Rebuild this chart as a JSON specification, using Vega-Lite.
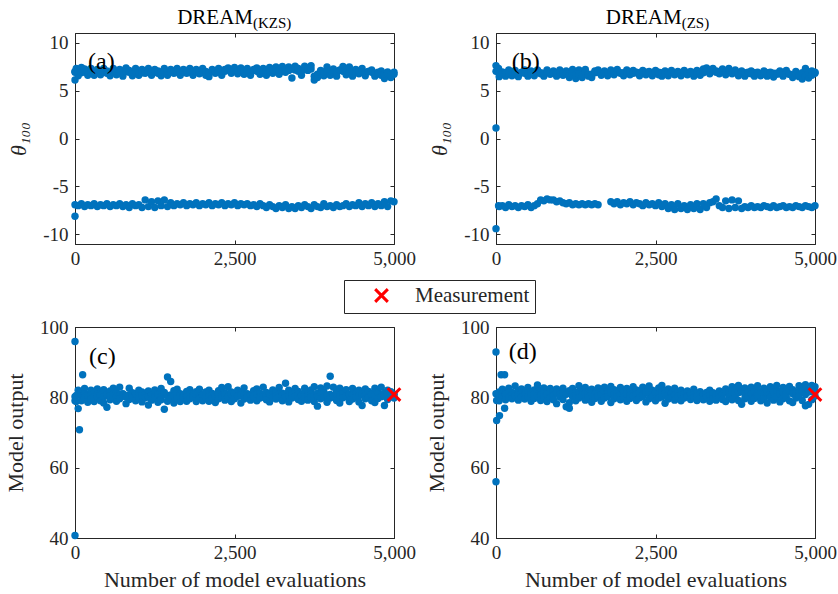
{
  "$schema": "https://vega.github.io/schema/vega-lite/v6.json",
  "background": "white",
  "padding": {"left": 4, "top": 6, "right": 0, "bottom": 0},
  "config": {
    "font": "Liberation Serif",
    "view": {"stroke": "#262626", "strokeWidth": 1},
    "axis": {
      "labelColor": "#262626", "titleColor": "#262626",
      "domainColor": "#262626", "tickColor": "#262626", "grid": false,
      "tickSize": -4
    }
  },
  "datasets": {
    "a": [
      {"i":0,"u":7.0,"m":6.9,"l":-6.9},{"i":0,"u":6.1,"l":-8.1},{"i":20,"u":7.3},
      {"i":50,"u":6.55,"m":7.0,"l":-7.0},{"i":100,"u":7.4,"m":6.85,"l":-6.8},{"i":150,"u":7.25,"m":6.95,"l":-7.1},{"i":200,"u":6.6,"m":7.05,"l":-6.9},
      {"i":250,"u":7.3,"m":6.9,"l":-7.0},{"i":300,"u":6.6,"m":7.0,"l":-6.8},{"i":350,"u":7.2,"m":6.85,"l":-7.1},{"i":400,"u":6.65,"m":7.0,"l":-6.9},
      {"i":450,"u":7.3,"m":6.95,"l":-7.0},{"i":500,"u":6.8,"m":7.05,"l":-6.8},{"i":550,"u":6.55,"m":6.9,"l":-7.1},{"i":600,"u":7.3,"m":6.95,"l":-6.9},
      {"i":650,"u":6.65,"m":7.0,"l":-7.0},{"i":700,"u":7.2,"m":6.85,"l":-6.8},{"i":750,"u":6.5,"m":7.05,"l":-7.1},{"i":800,"u":7.35,"m":6.95,"l":-6.9},
      {"i":850,"u":6.9,"m":7.1,"l":-7.2},{"i":900,"u":6.55,"m":6.9,"l":-6.8},{"i":950,"u":7.3,"m":7.0,"l":-7.0},{"i":1000,"u":6.6,"m":6.95,"l":-6.9},
      {"i":1050,"u":7.2,"m":6.85,"l":-7.2},{"i":1100,"u":6.8,"m":7.05,"l":-6.4},{"i":1150,"u":7.3,"m":6.95,"l":-7.1},{"i":1200,"u":6.6,"m":7.0,"l":-6.6},
      {"i":1250,"u":7.2,"m":6.9,"l":-7.2},{"i":1300,"u":6.8,"m":7.05,"l":-6.5},{"i":1350,"u":6.55,"m":6.95,"l":-7.0},{"i":1400,"u":7.3,"m":6.9,"l":-6.4},
      {"i":1450,"u":6.6,"m":7.0,"l":-7.1},{"i":1500,"u":7.2,"m":6.95,"l":-6.7},{"i":1550,"u":6.8,"m":7.05,"l":-7.0},{"i":1600,"u":7.3,"m":6.9,"l":-6.8},
      {"i":1650,"u":6.6,"m":7.0,"l":-6.9},{"i":1700,"u":7.2,"m":6.95,"l":-6.7},{"i":1750,"u":6.8,"m":7.05,"l":-7.0},{"i":1800,"u":7.3,"m":6.9,"l":-6.8},
      {"i":1850,"u":6.6,"m":7.0,"l":-6.9},{"i":1900,"u":7.2,"m":6.95,"l":-6.7},{"i":1950,"u":6.75,"m":7.05,"l":-7.0},{"i":2000,"u":7.3,"m":6.9,"l":-6.8},
      {"i":2050,"u":6.6,"m":7.0,"l":-6.9},{"i":2100,"u":6.45,"m":6.85,"l":-6.7},{"i":2150,"u":7.2,"m":7.0,"l":-7.0},{"i":2200,"u":6.8,"m":7.05,"l":-6.8},
      {"i":2250,"u":7.3,"m":6.95,"l":-6.9},{"i":2300,"u":6.6,"m":7.1,"l":-6.7},{"i":2350,"u":7.2,"m":7.0,"l":-7.0},{"i":2400,"u":7.35,"m":7.15,"l":-6.8},
      {"i":2450,"u":6.8,"m":7.05,"l":-6.9},{"i":2500,"u":7.4,"m":7.1,"l":-6.7},{"i":2550,"u":6.75,"m":7.0,"l":-7.0},{"i":2600,"u":7.35,"m":7.15,"l":-6.8},
      {"i":2650,"u":6.7,"m":7.05,"l":-6.9},{"i":2700,"u":7.3,"m":7.0,"l":-6.8},{"i":2750,"u":6.6,"m":6.95,"l":-7.0},{"i":2800,"u":7.2,"m":7.1,"l":-6.9},
      {"i":2850,"u":7.35,"m":7.0,"l":-7.1},{"i":2900,"u":6.7,"m":7.05,"l":-6.8},{"i":2950,"u":7.3,"m":6.95,"l":-7.0},{"i":3000,"u":6.6,"m":7.1,"l":-7.2},
      {"i":3050,"u":7.4,"m":7.0,"l":-6.9},{"i":3100,"u":6.8,"m":7.2,"l":-7.1},{"i":3150,"u":7.45,"m":7.05,"l":-7.3},{"i":3200,"u":6.7,"m":7.1,"l":-7.0},
      {"i":3250,"u":7.5,"m":7.0,"l":-7.2},{"i":3300,"u":6.9,"m":7.2,"l":-6.9},{"i":3350,"u":7.45,"m":7.1,"l":-7.3},{"i":3400,"u":6.3,"m":7.25,"l":-7.1},
      {"i":3450,"u":7.55,"m":7.15,"l":-7.3},{"i":3500,"u":7.0,"m":7.3,"l":-7.0},{"i":3550,"u":6.6,"m":7.1,"l":-7.2},{"i":3600,"u":7.55,"m":7.2,"l":-6.9},
      {"i":3650,"u":7.1,"m":7.3,"l":-7.1},{"i":3700,"u":7.6,"m":7.25,"l":-7.3},{"i":3750,"u":6.1,"m":6.5,"l":-6.9},{"i":3800,"u":6.35,"m":6.7,"l":-7.1},
      {"i":3850,"u":7.1,"m":6.9,"l":-7.2},{"i":3900,"u":6.55,"m":6.95,"l":-6.8},{"i":3950,"u":7.45,"m":7.0,"l":-7.1},{"i":4000,"u":6.6,"m":7.1,"l":-7.0},
      {"i":4050,"u":7.25,"m":6.9,"l":-7.2},{"i":4100,"u":6.5,"m":6.85,"l":-6.9},{"i":4150,"u":7.1,"m":7.15,"l":-7.1},{"i":4200,"u":7.5,"m":7.0,"l":-7.0},
      {"i":4250,"u":6.65,"m":7.1,"l":-6.8},{"i":4300,"u":7.45,"m":6.9,"l":-7.1},{"i":4350,"u":6.5,"m":7.0,"l":-6.9},{"i":4400,"u":7.2,"m":6.9,"l":-7.0},
      {"i":4450,"u":6.75,"m":7.05,"l":-6.7},{"i":4500,"u":7.3,"m":6.95,"l":-7.1},{"i":4550,"u":6.55,"m":6.85,"l":-6.8},{"i":4600,"u":7.0,"m":7.0,"l":-7.0},
      {"i":4650,"u":7.15,"m":6.9,"l":-6.7},{"i":4700,"u":6.5,"m":6.8,"l":-7.1},{"i":4750,"u":6.9,"m":6.75,"l":-6.8},{"i":4800,"u":7.05,"m":6.6,"l":-7.0},
      {"i":4850,"u":6.25,"m":6.7,"l":-6.6},{"i":4900,"u":6.95,"m":6.8,"l":-7.1},{"i":4950,"u":6.35,"m":6.6,"l":-6.5},{"i":5000,"u":6.9,"m":6.7,"l":-6.6}
    ],
    "b": [
      {"i":0,"u":7.6,"m":7.0,"l":-9.4},{"i":0,"u":1.1},{"i":40,"u":7.3,"l":-7.0},
      {"i":50,"u":6.45,"m":6.8,"l":-7.1},{"i":100,"u":6.95,"m":6.75,"l":-7.0},{"i":150,"u":6.5,"m":6.85,"l":-7.2},{"i":200,"u":7.15,"m":6.8,"l":-6.9},
      {"i":250,"u":6.55,"m":6.9,"l":-7.1},{"i":300,"u":7.1,"m":6.8,"l":-7.0},{"i":350,"u":6.45,"m":6.75,"l":-7.2},{"i":400,"u":6.9,"m":6.85,"l":-7.0},
      {"i":450,"u":7.15,"m":6.8,"l":-7.1},{"i":500,"u":6.5,"m":6.75,"l":-6.9},{"i":550,"u":7.05,"m":6.85,"l":-7.2},{"i":600,"u":6.55,"m":6.8,"l":-7.0},
      {"i":650,"u":7.15,"m":6.9,"l":-6.8},{"i":700,"u":6.75,"m":6.85,"l":-6.4},{"i":750,"u":6.5,"m":6.8,"l":-6.5},{"i":800,"u":7.15,"m":6.9,"l":-6.3},
      {"i":850,"u":6.7,"m":6.85,"l":-6.4},{"i":900,"u":7.05,"m":6.8,"l":-6.4},{"i":950,"u":6.5,"m":6.85,"l":-6.6},{"i":1000,"u":7.15,"m":6.9,"l":-6.5},
      {"i":1050,"u":6.6,"m":6.8,"l":-6.7},{"i":1100,"u":7.05,"m":6.75,"l":-6.8},{"i":1150,"u":6.35,"m":6.6,"l":-6.7},{"i":1200,"u":7.2,"m":6.8,"l":-6.9},
      {"i":1250,"u":6.25,"m":6.6,"l":-6.8},{"i":1300,"u":7.15,"m":6.75,"l":-6.9},{"i":1350,"u":6.35,"m":6.6,"l":-6.8},{"i":1400,"u":7.2,"m":6.85,"l":-6.9},
      {"i":1450,"u":6.5,"m":6.7,"l":-6.8},{"i":1500,"u":6.35,"m":6.7,"l":-6.9},{"i":1550,"u":7.05,"m":6.85,"l":-6.8},{"i":1600,"u":7.15,"m":6.9,"l":-6.9},
      {"i":1650,"u":6.6,"m":6.85},{"i":1700,"u":7.05,"m":6.9},{"i":1750,"u":6.55,"m":6.85},{"i":1800,"u":7.15,"m":6.9,"l":-6.6},
      {"i":1850,"u":6.65,"m":6.95,"l":-6.8},{"i":1900,"u":7.2,"m":6.9,"l":-6.6},{"i":1950,"u":6.8,"m":6.85,"l":-6.9},{"i":2000,"u":6.55,"m":6.85,"l":-6.7},
      {"i":2050,"u":7.15,"m":6.9,"l":-6.8},{"i":2100,"u":6.65,"m":6.85,"l":-6.6},{"i":2150,"u":7.1,"m":6.8,"l":-6.9},{"i":2200,"u":6.85,"m":6.9,"l":-6.7},
      {"i":2250,"u":6.55,"m":6.85,"l":-6.8},{"i":2300,"u":7.1,"m":6.8,"l":-7.0},{"i":2350,"u":6.65,"m":6.9,"l":-6.7},{"i":2400,"u":7.0,"m":6.85,"l":-6.9},
      {"i":2450,"u":6.55,"m":6.8,"l":-6.8},{"i":2500,"u":7.1,"m":6.85,"l":-7.0},{"i":2550,"u":6.65,"m":6.9,"l":-6.7},{"i":2600,"u":6.5,"m":6.85,"l":-7.1},
      {"i":2650,"u":7.05,"m":6.8,"l":-6.8},{"i":2700,"u":6.55,"m":6.85,"l":-7.3},{"i":2750,"u":7.1,"m":6.9,"l":-6.9},{"i":2800,"u":6.65,"m":6.85,"l":-7.4},
      {"i":2850,"u":7.0,"m":6.8,"l":-6.8},{"i":2900,"u":6.55,"m":6.85,"l":-7.3},{"i":2950,"u":7.1,"m":6.8,"l":-7.0},{"i":3000,"u":6.65,"m":6.85,"l":-7.4},
      {"i":3050,"u":7.0,"m":6.8,"l":-6.9},{"i":3100,"u":6.5,"m":6.85,"l":-7.3},{"i":3150,"u":7.1,"m":6.9,"l":-6.8},{"i":3200,"u":6.6,"m":6.8,"l":-7.4},
      {"i":3250,"u":7.25,"m":6.85,"l":-6.8},{"i":3300,"u":7.35,"m":7.0,"l":-7.2},{"i":3350,"u":6.75,"m":7.05,"l":-6.7},{"i":3400,"u":7.3,"m":7.1,"l":-6.6},
      {"i":3450,"u":6.9,"m":7.05,"l":-6.3},{"i":3500,"u":6.75,"m":7.0,"l":-7.0},{"i":3550,"u":7.25,"m":7.05,"l":-7.2},{"i":3600,"u":6.65,"m":6.95,"l":-6.5},
      {"i":3650,"u":7.3,"m":7.05,"l":-7.3},{"i":3700,"u":6.75,"m":6.95,"l":-6.4},{"i":3750,"u":7.15,"m":6.95,"l":-7.2},{"i":3800,"u":6.55,"m":6.85,"l":-6.5},
      {"i":3850,"u":7.05,"m":6.8,"l":-7.3},{"i":3900,"u":6.5,"m":6.85,"l":-7.1},{"i":3950,"u":6.9,"m":6.8,"l":-7.2},{"i":4000,"u":7.05,"m":6.75,"l":-7.0},
      {"i":4050,"u":6.5,"m":6.85,"l":-7.2},{"i":4100,"u":6.9,"m":6.8,"l":-7.1},{"i":4150,"u":6.55,"m":6.75,"l":-7.2},{"i":4200,"u":7.05,"m":6.8,"l":-7.0},
      {"i":4250,"u":6.5,"m":6.85,"l":-7.1},{"i":4300,"u":6.9,"m":6.75,"l":-7.2},{"i":4350,"u":6.4,"m":6.8,"l":-7.0},{"i":4400,"u":6.8,"m":6.7,"l":-7.2},
      {"i":4450,"u":7.05,"m":6.75,"l":-7.1},{"i":4500,"u":6.5,"m":6.85,"l":-7.0},{"i":4550,"u":7.1,"m":6.8,"l":-7.2},{"i":4600,"u":6.7,"m":6.7,"l":-7.1},
      {"i":4650,"u":6.35,"m":6.55,"l":-7.2},{"i":4700,"u":7.0,"m":6.8,"l":-7.0},{"i":4750,"u":6.45,"m":6.6,"l":-7.1},{"i":4800,"u":6.2,"m":6.85,"l":-7.2},
      {"i":4850,"u":7.3,"m":6.5,"l":-7.0},{"i":4900,"u":6.3,"m":6.9,"l":-7.1},{"i":4950,"u":7.05,"m":6.6,"l":-7.2},{"i":5000,"u":6.8,"m":6.9,"l":-7.0}
    ],
    "c": [
      {"i":0,"v1":79.0,"v3":80.2,"v2":40.7},{"i":0,"v1":95.9},{"i":20,"v1":80.5,"v2":78.8},{"i":70,"v1":70.8},{"i":120,"v1":86.4},
      {"i":50,"v1":82.0,"v3":80.8,"v2":76.8},{"i":100,"v1":81.5,"v3":80.4,"v2":79.0},{"i":150,"v1":82.5,"v3":81.0,"v2":80.0},{"i":200,"v1":80.8,"v3":80.3,"v2":78.6},
      {"i":250,"v1":82.0,"v3":80.7,"v2":79.5},{"i":300,"v1":81.2,"v3":80.1,"v2":78.8},{"i":350,"v1":82.4,"v3":80.9,"v2":80.2},{"i":400,"v1":81.0,"v3":80.5,"v2":79.0},
      {"i":450,"v1":82.2,"v3":80.2,"v2":78.4},{"i":500,"v1":80.6,"v3":80.8,"v2":77.2},{"i":550,"v1":81.8,"v3":80.4,"v2":79.3},{"i":600,"v1":82.6,"v3":81.0,"v2":80.0},
      {"i":650,"v1":81.4,"v3":80.3,"v2":78.9},{"i":700,"v1":82.9,"v3":80.6,"v2":79.6},{"i":750,"v1":81.0,"v3":80.9,"v2":80.3},{"i":800,"v1":80.5,"v3":80.2,"v2":78.2},
      {"i":850,"v1":82.6,"v3":80.7,"v2":79.4},{"i":900,"v1":81.3,"v3":80.4,"v2":80.1},{"i":950,"v1":80.8,"v3":81.0,"v2":79.0},{"i":1000,"v1":82.0,"v3":80.3,"v2":79.8},
      {"i":1050,"v1":81.5,"v3":80.6,"v2":78.7},{"i":1100,"v1":80.9,"v3":80.9,"v2":79.9},{"i":1150,"v1":81.8,"v3":80.1,"v2":77.8},{"i":1200,"v1":80.7,"v3":80.7,"v2":79.2},
      {"i":1250,"v1":82.1,"v3":80.4,"v2":80.0},{"i":1300,"v1":81.2,"v3":80.8,"v2":78.6},{"i":1350,"v1":82.5,"v3":80.2,"v2":79.3},{"i":1400,"v1":80.8,"v3":81.4,"v2":76.6},
      {"i":1450,"v1":85.8,"v3":80.5,"v2":78.9},{"i":1500,"v1":84.5,"v3":80.7,"v2":79.8},{"i":1550,"v1":81.9,"v3":80.3,"v2":78.4},{"i":1600,"v1":82.3,"v3":80.9,"v2":79.5},
      {"i":1650,"v1":81.0,"v3":80.4,"v2":78.8},{"i":1700,"v1":80.8,"v3":80.6,"v2":79.9},{"i":1750,"v1":81.7,"v3":80.2,"v2":78.9},{"i":1800,"v1":82.2,"v3":80.8,"v2":79.6},
      {"i":1850,"v1":80.9,"v3":80.5,"v2":80.1},{"i":1900,"v1":81.6,"v3":80.9,"v2":78.8},{"i":1950,"v1":82.3,"v3":80.3,"v2":79.7},{"i":2000,"v1":80.7,"v3":80.6,"v2":79.0},
      {"i":2050,"v1":81.5,"v3":81.0,"v2":80.2},{"i":2100,"v1":82.0,"v3":80.4,"v2":78.9},{"i":2150,"v1":81.1,"v3":80.7,"v2":79.7},{"i":2200,"v1":80.8,"v3":80.2,"v2":78.5},
      {"i":2250,"v1":81.9,"v3":80.9,"v2":79.6},{"i":2300,"v1":82.8,"v3":80.5,"v2":80.0},{"i":2350,"v1":81.3,"v3":80.8,"v2":79.2},{"i":2400,"v1":83.0,"v3":80.3,"v2":80.1},
      {"i":2450,"v1":81.5,"v3":80.7,"v2":78.8},{"i":2500,"v1":80.9,"v3":81.0,"v2":79.6},{"i":2550,"v1":82.0,"v3":80.4,"v2":80.3},{"i":2600,"v1":81.2,"v3":80.6,"v2":78.4},
      {"i":2650,"v1":82.7,"v3":80.9,"v2":79.5},{"i":2700,"v1":81.0,"v3":80.3,"v2":80.0},{"i":2750,"v1":80.6,"v3":80.7,"v2":79.2},{"i":2800,"v1":81.9,"v3":80.5,"v2":80.2},
      {"i":2850,"v1":82.4,"v3":80.9,"v2":79.0},{"i":2900,"v1":81.1,"v3":80.2,"v2":79.8},{"i":2950,"v1":82.9,"v3":80.8,"v2":80.1},{"i":3000,"v1":81.4,"v3":80.4,"v2":79.3},
      {"i":3050,"v1":80.9,"v3":81.0,"v2":78.7},{"i":3100,"v1":82.1,"v3":80.6,"v2":80.0},{"i":3150,"v1":81.6,"v3":80.3,"v2":79.5},{"i":3200,"v1":82.8,"v3":80.8,"v2":80.2},
      {"i":3250,"v1":81.2,"v3":80.5,"v2":79.0},{"i":3300,"v1":84.0,"v3":80.9,"v2":80.1},{"i":3350,"v1":82.0,"v3":80.4,"v2":78.7},{"i":3400,"v1":81.3,"v3":80.7,"v2":79.8},
      {"i":3450,"v1":82.5,"v3":80.2,"v2":80.2},{"i":3500,"v1":81.7,"v3":80.9,"v2":79.4},{"i":3550,"v1":80.9,"v3":80.6,"v2":78.9},{"i":3600,"v1":82.6,"v3":81.1,"v2":80.0},
      {"i":3650,"v1":81.5,"v3":80.4,"v2":79.2},{"i":3700,"v1":82.1,"v3":80.8,"v2":80.1},{"i":3750,"v1":83.0,"v3":80.5,"v2":78.8},{"i":3800,"v1":81.2,"v3":80.3,"v2":77.5},
      {"i":3850,"v1":82.7,"v3":80.9,"v2":79.6},{"i":3900,"v1":81.6,"v3":81.2,"v2":80.0},{"i":3950,"v1":83.2,"v3":80.6,"v2":78.6},{"i":4000,"v1":86.0,"v3":80.8,"v2":79.8},
      {"i":4050,"v1":82.9,"v3":80.4,"v2":80.2},{"i":4100,"v1":81.8,"v3":80.9,"v2":79.1},{"i":4150,"v1":82.6,"v3":80.6,"v2":78.4},{"i":4200,"v1":81.3,"v3":81.0,"v2":79.9},
      {"i":4250,"v1":82.2,"v3":80.3,"v2":80.3},{"i":4300,"v1":80.9,"v3":80.7,"v2":78.8},{"i":4350,"v1":82.5,"v3":80.5,"v2":79.5},{"i":4400,"v1":81.4,"v3":80.9,"v2":80.1},
      {"i":4450,"v1":82.0,"v3":80.4,"v2":78.7},{"i":4500,"v1":81.1,"v3":80.8,"v2":77.7},{"i":4550,"v1":82.4,"v3":80.6,"v2":79.6},{"i":4600,"v1":81.7,"v3":80.3,"v2":80.0},
      {"i":4650,"v1":80.8,"v3":80.9,"v2":79.0},{"i":4700,"v1":82.6,"v3":80.5,"v2":78.5},{"i":4750,"v1":81.5,"v3":81.0,"v2":79.7},{"i":4800,"v1":82.9,"v3":80.7,"v2":80.2},
      {"i":4850,"v1":81.2,"v3":80.4,"v2":77.7},{"i":4900,"v1":82.0,"v3":80.9,"v2":79.4},{"i":4950,"v1":81.6,"v3":80.6,"v2":80.3},{"i":5000,"v1":80.9,"v3":80.7,"v2":79.8}
    ],
    "d": [
      {"i":0,"v1":92.9,"v3":81.0,"v2":56.0},{"i":10,"v1":79.1,"v2":73.4},{"i":55,"v1":74.8,"v2":80.5},{"i":80,"v1":86.4},{"i":135,"v1":86.4,"v2":76.9},
      {"i":50,"v1":81.5,"v3":80.6,"v2":79.0},{"i":100,"v1":82.3,"v3":81.2,"v2":80.1},{"i":150,"v1":81.0,"v3":80.8,"v2":79.3},{"i":200,"v1":82.6,"v3":81.4,"v2":80.0},
      {"i":250,"v1":81.4,"v3":80.7,"v2":79.6},{"i":300,"v1":83.2,"v3":81.1,"v2":80.3},{"i":350,"v1":81.8,"v3":80.9,"v2":79.2},{"i":400,"v1":82.4,"v3":81.3,"v2":80.1},
      {"i":450,"v1":81.2,"v3":80.6,"v2":79.5},{"i":500,"v1":82.8,"v3":81.2,"v2":80.2},{"i":550,"v1":81.5,"v3":80.8,"v2":78.9},{"i":600,"v1":82.1,"v3":81.0,"v2":79.7},
      {"i":650,"v1":83.5,"v3":81.5,"v2":80.4},{"i":700,"v1":81.9,"v3":80.7,"v2":79.1},{"i":750,"v1":82.7,"v3":81.3,"v2":80.0},{"i":800,"v1":81.3,"v3":80.9,"v2":78.8},
      {"i":850,"v1":82.5,"v3":81.1,"v2":79.9},{"i":900,"v1":81.7,"v3":80.6,"v2":79.3},{"i":950,"v1":82.4,"v3":81.4,"v2":78.2},{"i":1000,"v1":81.8,"v3":80.8,"v2":80.1},
      {"i":1050,"v1":82.6,"v3":81.2,"v2":79.4},{"i":1100,"v1":81.0,"v3":80.9,"v2":77.3},{"i":1150,"v1":81.9,"v3":78.5,"v2":76.9},{"i":1200,"v1":82.5,"v3":81.3,"v2":80.2},
      {"i":1250,"v1":81.4,"v3":80.7,"v2":79.0},{"i":1300,"v1":83.3,"v3":81.5,"v2":79.8},{"i":1350,"v1":82.0,"v3":81.0,"v2":80.4},{"i":1400,"v1":82.8,"v3":81.2,"v2":79.2},
      {"i":1450,"v1":81.6,"v3":80.8,"v2":80.0},{"i":1500,"v1":82.3,"v3":81.4,"v2":78.6},{"i":1550,"v1":81.2,"v3":80.9,"v2":79.7},{"i":1600,"v1":82.7,"v3":81.1,"v2":80.3},
      {"i":1650,"v1":81.5,"v3":80.7,"v2":78.9},{"i":1700,"v1":82.9,"v3":81.6,"v2":79.8},{"i":1750,"v1":81.8,"v3":81.0,"v2":80.2},{"i":1800,"v1":83.1,"v3":81.3,"v2":78.5},
      {"i":1850,"v1":82.2,"v3":80.8,"v2":79.6},{"i":1900,"v1":81.4,"v3":81.2,"v2":80.1},{"i":1950,"v1":82.8,"v3":80.9,"v2":79.3},{"i":2000,"v1":81.9,"v3":81.5,"v2":80.0},
      {"i":2050,"v1":82.5,"v3":81.0,"v2":78.9},{"i":2100,"v1":81.3,"v3":80.7,"v2":79.7},{"i":2150,"v1":83.0,"v3":81.3,"v2":80.4},{"i":2200,"v1":82.1,"v3":80.9,"v2":79.1},
      {"i":2250,"v1":81.6,"v3":81.2,"v2":79.9},{"i":2300,"v1":82.9,"v3":80.8,"v2":80.3},{"i":2350,"v1":81.7,"v3":81.4,"v2":78.7},{"i":2400,"v1":83.2,"v3":81.1,"v2":79.6},
      {"i":2450,"v1":82.0,"v3":80.7,"v2":80.2},{"i":2500,"v1":81.4,"v3":81.3,"v2":79.0},{"i":2550,"v1":82.7,"v3":80.9,"v2":79.8},{"i":2600,"v1":83.4,"v3":81.5,"v2":80.1},
      {"i":2650,"v1":81.8,"v3":81.0,"v2":78.3},{"i":2700,"v1":82.4,"v3":80.8,"v2":79.5},{"i":2750,"v1":81.2,"v3":81.2,"v2":80.0},{"i":2800,"v1":82.6,"v3":80.6,"v2":79.2},
      {"i":2850,"v1":81.5,"v3":81.1,"v2":80.3},{"i":2900,"v1":82.0,"v3":80.7,"v2":79.0},{"i":2950,"v1":81.1,"v3":81.0,"v2":79.8},{"i":3000,"v1":81.8,"v3":80.6,"v2":80.2},
      {"i":3050,"v1":81.2,"v3":81.1,"v2":79.4},{"i":3100,"v1":82.3,"v3":80.8,"v2":80.0},{"i":3150,"v1":81.0,"v3":80.4,"v2":79.1},{"i":3200,"v1":81.6,"v3":81.0,"v2":79.9},
      {"i":3250,"v1":80.9,"v3":80.7,"v2":79.3},{"i":3300,"v1":81.4,"v3":80.9,"v2":80.1},{"i":3350,"v1":82.0,"v3":80.5,"v2":78.9},{"i":3400,"v1":81.3,"v3":81.0,"v2":79.6},
      {"i":3450,"v1":80.9,"v3":80.6,"v2":79.2},{"i":3500,"v1":81.8,"v3":81.2,"v2":80.0},{"i":3550,"v1":81.1,"v3":80.8,"v2":79.4},{"i":3600,"v1":82.4,"v3":81.4,"v2":78.8},
      {"i":3650,"v1":81.6,"v3":81.0,"v2":80.1},{"i":3700,"v1":83.0,"v3":81.6,"v2":79.3},{"i":3750,"v1":82.2,"v3":81.1,"v2":80.0},{"i":3800,"v1":83.4,"v3":81.3,"v2":79.1},
      {"i":3850,"v1":81.8,"v3":81.7,"v2":78.0},{"i":3900,"v1":82.7,"v3":80.9,"v2":79.6},{"i":3950,"v1":81.3,"v3":81.4,"v2":80.2},{"i":4000,"v1":82.9,"v3":81.0,"v2":78.9},
      {"i":4050,"v1":82.1,"v3":81.6,"v2":79.7},{"i":4100,"v1":83.3,"v3":81.2,"v2":80.3},{"i":4150,"v1":81.5,"v3":81.5,"v2":79.0},{"i":4200,"v1":82.6,"v3":80.9,"v2":79.5},
      {"i":4250,"v1":81.2,"v3":81.7,"v2":78.4},{"i":4300,"v1":83.0,"v3":81.1,"v2":80.0},{"i":4350,"v1":82.0,"v3":81.4,"v2":79.2},{"i":4400,"v1":83.4,"v3":81.8,"v2":80.2},
      {"i":4450,"v1":81.6,"v3":81.0,"v2":78.7},{"i":4500,"v1":82.8,"v3":81.5,"v2":79.6},{"i":4550,"v1":81.9,"v3":81.2,"v2":80.1},{"i":4600,"v1":83.1,"v3":81.8,"v2":79.0},
      {"i":4650,"v1":82.2,"v3":81.0,"v2":78.5},{"i":4700,"v1":81.4,"v3":81.6,"v2":79.8},{"i":4750,"v1":83.3,"v3":81.3,"v2":80.2},{"i":4800,"v1":82.5,"v3":81.9,"v2":79.1},
      {"i":4850,"v1":83.6,"v3":80.8,"v2":77.6},{"i":4900,"v1":82.0,"v3":81.5,"v2":78.0},{"i":4950,"v1":83.4,"v3":81.7,"v2":79.3},{"i":5000,"v1":83.0,"v3":81.6,"v2":80.4}
    ],
    "meas": [{"i":5000,"v":80.8,"kind":"Measurement"}],
    "one": [{}]
  },
  "columns": 2,
  "spacing": {"row": 83, "column": 102},
  "bounds": "flush",
  "concat": [
    {
      "width": 319, "height": 211,
      "resolve": {"axis": {"x": "independent", "y": "independent"}},
      "layer": [
        {
          "data": {"name": "a"},
          "transform": [{"fold": ["u", "m", "l"], "as": ["band", "v"]}],
          "mark": {"type": "point", "filled": true, "shape": "circle", "size": 55, "color": "#0072BD", "opacity": 1},
          "encoding": {
            "x": {"field": "i", "type": "quantitative", "scale": {"domain": [0, 5000], "nice": false},
                  "axis": {"orient": "bottom", "values": [0, 2500, 5000], "format": ",d", "labelFlush": false, "title": null, "labelPadding": 9, "labelFont": "Liberation Serif", "labelFontSize": 19}},
            "y": {"field": "v", "type": "quantitative", "scale": {"domain": [-11, 11], "nice": false},
                  "axis": {"orient": "left", "values": [-10, -5, 0, 5, 10], "title": "θ₁₀₀", "titleFontStyle": "italic", "titleFontWeight": "normal", "labelPadding": 11, "titlePadding": 12, "labelExpr": "replace(datum.label, '−', '-')", "labelFont": "Liberation Serif", "titleFont": "Liberation Serif", "labelFontSize": 19, "titleFontSize": 22}}
          }
        },
        {
          "data": {"name": "one"},
          "mark": {"type": "text", "align": "left", "baseline": "middle", "fontSize": 24, "font": "Liberation Serif", "color": "black"},
          "encoding": {
            "x": {"datum": 204, "type": "quantitative", "scale": {"domain": [0, 5000], "nice": false},
                  "axis": {"orient": "top", "values": [0, 2500, 5000], "labels": false, "title": null, "domain": false}},
            "y": {"datum": 8, "type": "quantitative", "scale": {"domain": [-11, 11], "nice": false},
                  "axis": {"orient": "right", "values": [-10, -5, 0, 5, 10], "labels": false, "title": null, "domain": false}},
            "text": {"value": "(a)"}
          }
        },
        {
          "data": {"name": "one"},
          "mark": {"type": "text", "align": "right", "baseline": "alphabetic", "fontSize": 21, "font": "Liberation Serif", "color": "black"},
          "encoding": {
            "x": {"datum": 2790, "type": "quantitative", "axis": null},
            "y": {"datum": 11.96, "type": "quantitative", "axis": null},
            "text": {"value": "DREAM"}
          }
        },
        {
          "data": {"name": "one"},
          "mark": {"type": "text", "align": "left", "baseline": "alphabetic", "fontSize": 15, "font": "Liberation Serif", "color": "black"},
          "encoding": {
            "x": {"datum": 2790, "type": "quantitative", "axis": null},
            "y": {"datum": 11.5, "type": "quantitative", "axis": null},
            "text": {"value": "(KZS)"}
          }
        }
      ]
    },
    {
      "width": 319, "height": 211,
      "resolve": {"axis": {"x": "independent", "y": "independent"}},
      "layer": [
        {
          "data": {"name": "b"},
          "transform": [{"fold": ["u", "m", "l"], "as": ["band", "v"]}],
          "mark": {"type": "point", "filled": true, "shape": "circle", "size": 55, "color": "#0072BD", "opacity": 1},
          "encoding": {
            "x": {"field": "i", "type": "quantitative", "scale": {"domain": [0, 5000], "nice": false},
                  "axis": {"orient": "bottom", "values": [0, 2500, 5000], "format": ",d", "labelFlush": false, "title": null, "labelPadding": 9, "labelFont": "Liberation Serif", "labelFontSize": 19}},
            "y": {"field": "v", "type": "quantitative", "scale": {"domain": [-11, 11], "nice": false},
                  "axis": {"orient": "left", "values": [-10, -5, 0, 5, 10], "title": "θ₁₀₀", "titleFontStyle": "italic", "titleFontWeight": "normal", "labelPadding": 11, "titlePadding": 12, "labelExpr": "replace(datum.label, '−', '-')", "labelFont": "Liberation Serif", "titleFont": "Liberation Serif", "labelFontSize": 19, "titleFontSize": 22}}
          }
        },
        {
          "data": {"name": "one"},
          "mark": {"type": "text", "align": "left", "baseline": "middle", "fontSize": 24, "font": "Liberation Serif", "color": "black"},
          "encoding": {
            "x": {"datum": 246, "type": "quantitative", "scale": {"domain": [0, 5000], "nice": false},
                  "axis": {"orient": "top", "values": [0, 2500, 5000], "labels": false, "title": null, "domain": false}},
            "y": {"datum": 8, "type": "quantitative", "scale": {"domain": [-11, 11], "nice": false},
                  "axis": {"orient": "right", "values": [-10, -5, 0, 5, 10], "labels": false, "title": null, "domain": false}},
            "text": {"value": "(b)"}
          }
        },
        {
          "data": {"name": "one"},
          "mark": {"type": "text", "align": "right", "baseline": "alphabetic", "fontSize": 21, "font": "Liberation Serif", "color": "black"},
          "encoding": {
            "x": {"datum": 2910, "type": "quantitative", "axis": null},
            "y": {"datum": 11.96, "type": "quantitative", "axis": null},
            "text": {"value": "DREAM"}
          }
        },
        {
          "data": {"name": "one"},
          "mark": {"type": "text", "align": "left", "baseline": "alphabetic", "fontSize": 15, "font": "Liberation Serif", "color": "black"},
          "encoding": {
            "x": {"datum": 2910, "type": "quantitative", "axis": null},
            "y": {"datum": 11.5, "type": "quantitative", "axis": null},
            "text": {"value": "(ZS)"}
          }
        }
      ]
    },
    {
      "width": 319, "height": 211,
      "resolve": {"axis": {"x": "independent", "y": "independent"}},
      "layer": [
        {
          "data": {"name": "c"},
          "transform": [{"fold": ["v1", "v3", "v2"], "as": ["band", "v"]}],
          "mark": {"type": "point", "filled": true, "shape": "circle", "size": 55, "color": "#0072BD", "opacity": 1},
          "encoding": {
            "x": {"field": "i", "type": "quantitative", "scale": {"domain": [0, 5000], "nice": false},
                  "axis": {"orient": "bottom", "values": [0, 2500, 5000], "format": ",d", "labelFlush": false, "title": "Number of model evaluations", "titleFontWeight": "normal", "labelPadding": 9, "titlePadding": 7, "labelFont": "Liberation Serif", "titleFont": "Liberation Serif", "labelFontSize": 19, "titleFontSize": 22}},
            "y": {"field": "v", "type": "quantitative", "scale": {"domain": [40, 100], "nice": false},
                  "axis": {"orient": "left", "values": [40, 60, 80, 100], "title": "Model output", "titleFontWeight": "normal", "labelPadding": 11, "titlePadding": 12, "labelFont": "Liberation Serif", "titleFont": "Liberation Serif", "labelFontSize": 19, "titleFontSize": 22}}
          }
        },
        {
          "data": {"name": "meas"},
          "mark": {"type": "point", "filled": false, "shape": "M-1,-1L1,1M-1,1L1,-1", "size": 160, "strokeWidth": 3, "opacity": 1},
          "encoding": {
            "x": {"field": "i", "type": "quantitative", "scale": {"domain": [0, 5000], "nice": false}, "axis": null},
            "y": {"field": "v", "type": "quantitative", "scale": {"domain": [40, 100], "nice": false}, "axis": null},
            "stroke": {"field": "kind", "type": "nominal", "scale": {"range": ["#FF0000"]},
                       "legend": {"title": null, "orient": "none", "legendX": 269, "legendY": 247,
                                  "symbolType": "M-1,-1L1,1M-1,1L1,-1", "symbolSize": 160, "symbolStrokeWidth": 3,
                                  "symbolOffset": 22, "labelOffset": 23, "padding": 5,
                                  "strokeColor": "#262626", "fillColor": "white", "labelFont": "Liberation Serif", "labelFontSize": 21, "labelColor": "#262626"}}
          }
        },
        {
          "data": {"name": "one"},
          "mark": {"type": "text", "align": "left", "baseline": "middle", "fontSize": 24, "font": "Liberation Serif", "color": "black"},
          "encoding": {
            "x": {"datum": 220, "type": "quantitative", "scale": {"domain": [0, 5000], "nice": false},
                  "axis": {"orient": "top", "values": [0, 2500, 5000], "labels": false, "title": null, "domain": false}},
            "y": {"datum": 91.4, "type": "quantitative", "scale": {"domain": [40, 100], "nice": false},
                  "axis": {"orient": "right", "values": [40, 60, 80, 100], "labels": false, "title": null, "domain": false}},
            "text": {"value": "(c)"}
          }
        }
      ]
    },
    {
      "width": 319, "height": 211,
      "resolve": {"axis": {"x": "independent", "y": "independent"}},
      "layer": [
        {
          "data": {"name": "d"},
          "transform": [{"fold": ["v1", "v3", "v2"], "as": ["band", "v"]}],
          "mark": {"type": "point", "filled": true, "shape": "circle", "size": 55, "color": "#0072BD", "opacity": 1},
          "encoding": {
            "x": {"field": "i", "type": "quantitative", "scale": {"domain": [0, 5000], "nice": false},
                  "axis": {"orient": "bottom", "values": [0, 2500, 5000], "format": ",d", "labelFlush": false, "title": "Number of model evaluations", "titleFontWeight": "normal", "labelPadding": 9, "titlePadding": 7, "labelFont": "Liberation Serif", "titleFont": "Liberation Serif", "labelFontSize": 19, "titleFontSize": 22}},
            "y": {"field": "v", "type": "quantitative", "scale": {"domain": [40, 100], "nice": false},
                  "axis": {"orient": "left", "values": [40, 60, 80, 100], "title": "Model output", "titleFontWeight": "normal", "labelPadding": 11, "titlePadding": 12, "labelFont": "Liberation Serif", "titleFont": "Liberation Serif", "labelFontSize": 19, "titleFontSize": 22}}
          }
        },
        {
          "data": {"name": "meas"},
          "mark": {"type": "point", "filled": false, "shape": "M-1,-1L1,1M-1,1L1,-1", "size": 160, "strokeWidth": 3, "opacity": 1, "stroke": "#FF0000"},
          "encoding": {
            "x": {"field": "i", "type": "quantitative", "scale": {"domain": [0, 5000], "nice": false}, "axis": null},
            "y": {"field": "v", "type": "quantitative", "scale": {"domain": [40, 100], "nice": false}, "axis": null}
          }
        },
        {
          "data": {"name": "one"},
          "mark": {"type": "text", "align": "left", "baseline": "middle", "fontSize": 24, "font": "Liberation Serif", "color": "black"},
          "encoding": {
            "x": {"datum": 201, "type": "quantitative", "scale": {"domain": [0, 5000], "nice": false},
                  "axis": {"orient": "top", "values": [0, 2500, 5000], "labels": false, "title": null, "domain": false}},
            "y": {"datum": 92.9, "type": "quantitative", "scale": {"domain": [40, 100], "nice": false},
                  "axis": {"orient": "right", "values": [40, 60, 80, 100], "labels": false, "title": null, "domain": false}},
            "text": {"value": "(d)"}
          }
        }
      ]
    }
  ]
}
